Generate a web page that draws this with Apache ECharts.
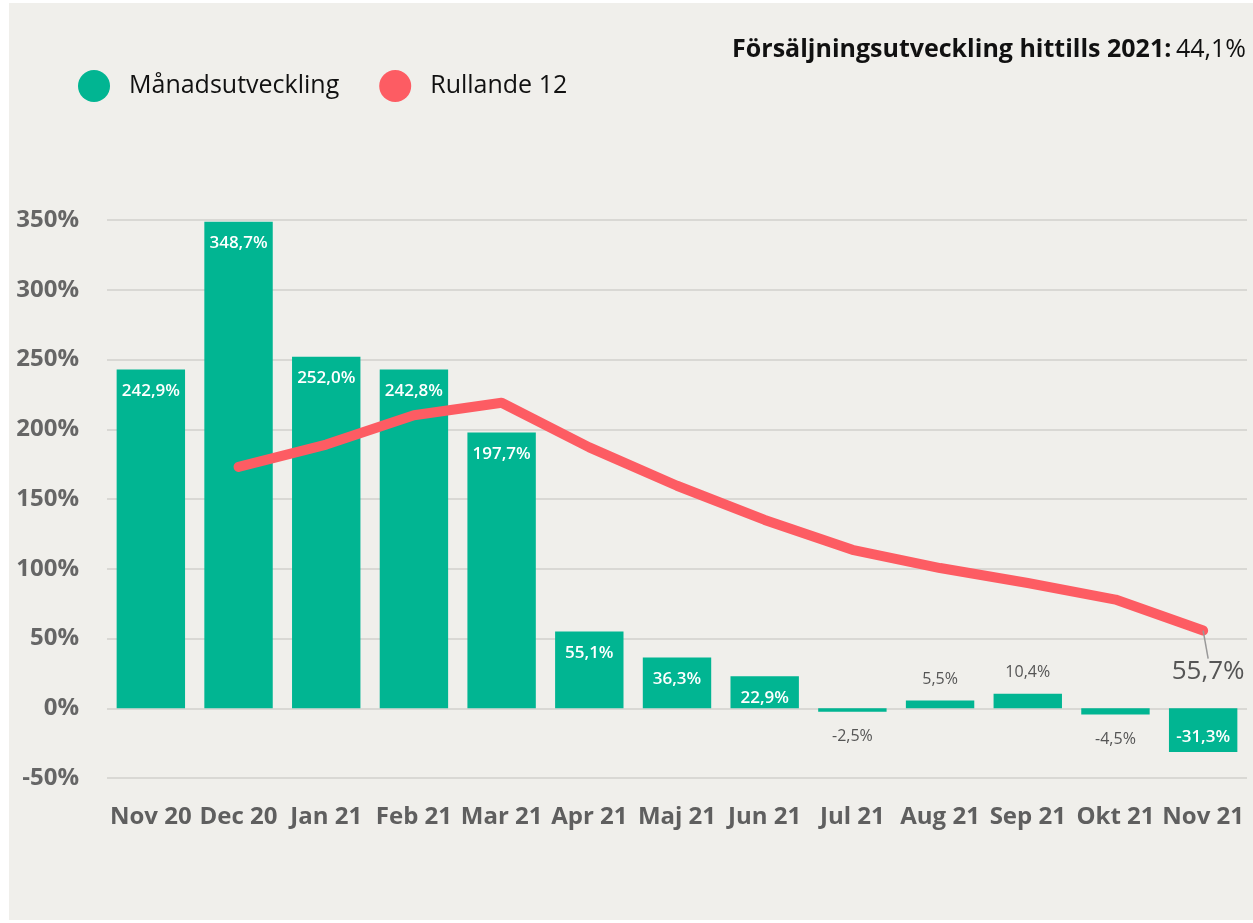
<!DOCTYPE html>
<html>
<head>
<meta charset="utf-8">
<script src="https://cdn.jsdelivr.net/npm/echarts@6/dist/echarts.min.js"></script>
<style>
  html, body { margin: 0; padding: 0; background: #ffffff; }
  #chart { position: absolute; left: 9px; top: 3px; width: 1244px; height: 917px; background: #f0efeb; }
</style>
</head>
<body>
<div id="chart"></div>
<script>
// kategorier och värden (procent)
var months = ['Nov 20', 'Dec 20', 'Jan 21', 'Feb 21', 'Mar 21', 'Apr 21', 'Maj 21', 'Jun 21', 'Jul 21', 'Aug 21', 'Sep 21', 'Okt 21', 'Nov 21'];
var monthly = [242.9, 348.7, 252.0, 242.8, 197.7, 55.1, 36.3, 22.9, -2.5, 5.5, 10.4, -4.5, -31.3];
var rolling12 = [null, 173, 189, 210, 219, 187, 159.5, 135, 113.6, 100.5, 89.8, 77.9, 55.7];
var ytdLabel = 'Försäljningsutveckling hittills 2021:';
var ytdValue = '44,1%';

var fontFam = '"Open Sans", "Noto Sans", sans-serif';

function pct(v) {
  return v.toFixed(1).replace('.', ',') + '%';
}

var chart = echarts.init(document.getElementById('chart'));

// stapeletiketter: inne i stapeln om den är stor nog, annars utanför
var barData = monthly.map(function (v) {
  var big = Math.abs(v) >= 20;
  var label;
  if (big) {
    label = {
      show: true,
      position: v >= 0 ? 'insideTop' : 'insideBottom',
      distance: v >= 0 ? 13 : 6,
      color: '#ffffff',
      fontSize: 17,
      fontWeight: 600
    };
  } else {
    label = {
      show: true,
      position: v >= 0 ? 'top' : 'bottom',
      distance: v >= 0 ? 13 : 17,
      color: '#555555',
      fontSize: 16
    };
  }
  return { value: v, label: label };
});

// bara sista punkten får etikett
var lineData = rolling12.map(function (v, i) {
  if (i === rolling12.length - 1) {
    return {
      value: v,
      label: {
        show: true,
        position: 'bottom',
        distance: 2,
        fontSize: 26,
        color: '#555555',
        formatter: function (p) { return pct(p.value); }
      },
      labelLine: { show: true, lineStyle: { color: '#999', width: 1.5 } }
    };
  }
  return v;
});

var option = {
  textStyle: { fontFamily: fontFam },
  animation: false,
  title: {
    text: '{b|' + ytdLabel + '} {n|' + ytdValue + '}',
    right: 2,
    top: 29,
    textStyle: {
      rich: {
        b: { fontSize: 25, fontWeight: 'bold', color: '#111', fontFamily: fontFam },
        n: { fontSize: 25, fontWeight: 'normal', color: '#111', fontFamily: fontFam }
      }
    }
  },
  legend: {
    left: 64,
    top: 62,
    icon: 'circle',
    itemWidth: 32,
    itemHeight: 32,
    itemGap: 40,
    textStyle: { fontSize: 25, color: '#111', padding: [0, 0, 0, 14] },
    data: ['Månadsutveckling', 'Rullande 12']
  },
  grid: { left: 98, right: 6, top: 217, bottom: 142 },
  xAxis: {
    type: 'category',
    data: months,
    axisLine: { show: false },
    axisTick: { show: false },
    axisLabel: { color: '#5f5f5f', fontSize: 24, fontWeight: 'bold', margin: 27, interval: 0 }
  },
  yAxis: {
    type: 'value',
    min: -50,
    max: 350,
    interval: 50,
    axisLabel: {
      color: '#666666', fontSize: 24, fontWeight: 'bold', margin: 28,
      formatter: function (v) { return v + '%'; }
    },
    splitLine: { lineStyle: { color: '#d9d8d4', width: 2 } }
  },
  series: [
    {
      name: 'Månadsutveckling',
      type: 'bar',
      barWidth: '78%',
      itemStyle: { color: '#01b592' },
      label: { formatter: function (p) { return pct(p.value); } },
      data: barData,
      z: 2
    },
    {
      name: 'Rullande 12',
      type: 'line',
      symbol: 'circle',
      symbolSize: 0.1,
      showSymbol: true,
      itemStyle: { color: '#fd5c63' },
      lineStyle: { color: '#fd5c63', width: 10, cap: 'round', join: 'round' },
      labelLayout: { dx: 5, dy: 26 },
      data: lineData,
      z: 3
    }
  ]
};

chart.setOption(option);
</script>
</body>
</html>
